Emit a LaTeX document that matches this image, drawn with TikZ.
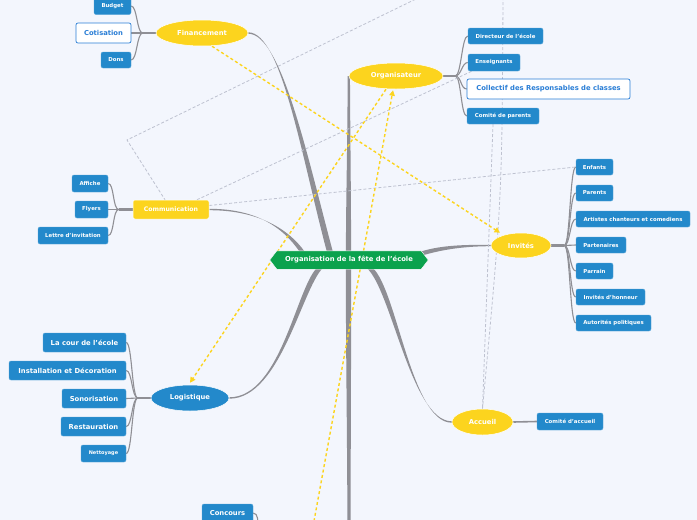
\documentclass[tikz,border=0pt]{standalone}
\usepackage{fontspec}
\setmainfont{DejaVu Sans}
\usetikzlibrary{shapes.geometric,calc,arrows.meta}
\pgfdeclarelayer{bgl}\pgfdeclarelayer{lines}\pgfdeclarelayer{hex}
\pgfsetlayers{bgl,lines,hex,main}
\definecolor{bgc}{HTML}{F3F6FD}
\definecolor{yel}{HTML}{FCD41E}
\definecolor{blu}{HTML}{2389CB}
\definecolor{grn}{HTML}{0BA24D}
\definecolor{brc}{HTML}{8F8F95}
\definecolor{dgr}{HTML}{BEC2D0}
\definecolor{wbl}{HTML}{2A7ED6}
\tikzset{
 bx/.style={rectangle, rounded corners=2pt, fill=blu, draw=blu!75!white, line width=0.4pt, text=white, font=\fontsize{5.4}{6}\selectfont\bfseries, inner sep=1pt},
 bxl/.style={bx, font=\fontsize{6.8}{8}\selectfont\bfseries},
 wbx/.style={rectangle, rounded corners=2pt, fill=white, draw=wbl, line width=0.7pt, text=wbl, font=\fontsize{6.8}{8}\selectfont\bfseries, inner sep=1pt},
 ell/.style={ellipse, fill=yel, draw=white, line width=0.5pt, text=white, font=\fontsize{6.8}{8}\selectfont\bfseries, inner sep=0pt},
 ybx/.style={rectangle, rounded corners=2pt, fill=yel, draw=white, line width=0.5pt, text=white, font=\fontsize{6.2}{7}\selectfont\bfseries, inner sep=1pt},
 ctr/.style={rectangle, text=white, font=\fontsize{6.8}{8}\selectfont\bfseries, inner sep=0pt},
 stem/.style={draw=brc, line width=2.3pt},
 sub/.style={draw=brc, line width=1.1pt},
 gd/.style={draw=dgr, line width=0.8pt, dash pattern=on 3pt off 2pt},
 yd/.style={draw=yel, line width=1.4pt, dash pattern=on 3pt off 2.5pt, -{Triangle[length=5.5pt,width=5.5pt,fill=yel]}},
}
\newcommand\tbr[6]{\fill[brc] ($(#1)+(#5)$) .. controls ($(#2)+(#5)$) and ($(#3)+(#6)$) .. ($(#4)+(#6)$) -- ($(#4)-(#6)$) .. controls ($(#3)-(#6)$) and ($(#2)-(#5)$) .. ($(#1)-(#5)$) -- cycle;}
\newcommand\fanL[2]{\draw[sub] (#1) .. controls +(-6,0) and +(6,0) .. (#2);}
\newcommand\fanR[2]{\draw[sub] (#1) .. controls +(6,0) and +(-6,0) .. (#2);}
\begin{document}
\begin{tikzpicture}[x=1pt,y=-1pt]
\begin{pgfonlayer}{bgl}
\fill[bgc] (0,0) rectangle (697,520);
\end{pgfonlayer}
\useasboundingbox (0,0) rectangle (697,520);

% central
\node[ctr, minimum width=158, minimum height=18] (c) at (349,260) {Organisation de la fête de l'école};
\begin{pgfonlayer}{hex}
\filldraw[fill=grn, draw=white, line width=0.4pt] (c.west) -- ($(c.north west)+(7,0)$) -- ($(c.north east)+(-7,0)$) -- (c.east) -- ($(c.south east)+(-7,0)$) -- ($(c.south west)+(7,0)$) -- cycle;
\end{pgfonlayer}

% Financement
\node[ell, minimum width=92, minimum height=26] (fin) at (202,33) {Financement};
\node[bx, minimum width=37, minimum height=17] (bud) at (112.5,6) {Budget};
\node[wbx, minimum width=55, minimum height=20] (cot) at (103.5,33) {Cotisation};
\node[bx, minimum width=30, minimum height=16] (don) at (116,60) {Dons};

% Organisateur
\node[ell, minimum width=94, minimum height=26] (org) at (396,76) {Organisateur};
\node[bx, minimum width=75, minimum height=16] (dir) at (505.5,36) {Directeur de l'école};
\node[bx, minimum width=52, minimum height=17] (ens) at (494,62.5) {Enseignants};
\node[wbx, minimum width=163, minimum height=20] (col) at (548.5,89) {Collectif des Responsables de classes};
\node[bx, minimum width=72, minimum height=16] (cpa) at (503,116) {Comité de parents};

% Communication
\node[ybx, minimum width=76, minimum height=19] (com) at (171,209.5) {Communication};
\node[bx, minimum width=36, minimum height=17] (aff) at (90,183.5) {Affiche};
\node[bx, minimum width=33, minimum height=17] (fly) at (91.5,209.5) {Flyers};
\node[bx, minimum width=70, minimum height=17] (let) at (73,235.5) {Lettre d'invitation};

% Invites
\node[ell, minimum width=60, minimum height=25] (inv) at (521,245.5) {Invités};
\node[bx, minimum width=37, minimum height=16] (enf) at (594.5,167) {Enfants};
\node[bx, minimum width=37, minimum height=16] (par) at (594.5,193) {Parents};
\node[bx, minimum width=114, minimum height=16] (art) at (633,219) {Artistes chanteurs et comediens};
\node[bx, minimum width=50, minimum height=16] (pat) at (601,245) {Partenaires};
\node[bx, minimum width=37, minimum height=16] (prr) at (594.5,271) {Parrain};
\node[bx, minimum width=69, minimum height=16] (hon) at (610.5,297) {Invités d'honneur};
\node[bx, minimum width=75, minimum height=16] (aut) at (613.5,323) {Autorités politiques};

% Logistique
\node[ell, fill=blu, minimum width=78, minimum height=26] (log) at (190,398) {Logistique};
\node[bxl, minimum width=83, minimum height=19] (cou) at (84.5,342.5) {La cour de l'école};
\node[bxl, minimum width=117, minimum height=19] (ins) at (67.5,370.5) {Installation et Décoration};
\node[bxl, minimum width=64, minimum height=19] (son) at (94,398.5) {Sonorisation};
\node[bxl, minimum width=65, minimum height=19] (res) at (93.5,426.5) {Restauration};
\node[bx, font=\fontsize{5}{6}\selectfont\bfseries, minimum width=45, minimum height=17] (net) at (103.5,453.5) {Nettoyage};

% Accueil
\node[ell, minimum width=61, minimum height=26] (acc) at (482.5,422) {Accueil};
\node[bx, minimum width=66, minimum height=17] (cac) at (570,421.5) {Comité d'accueil};

% Concours
\node[bxl, minimum width=51, minimum height=18] (con) at (227.5,513) {Concours};

\begin{pgfonlayer}{lines}
% main branches
\coordinate (fa) at (331,256); \coordinate (fc1) at (305,160); \coordinate (fc2) at (282,33);
\tbr{fa}{fc1}{fc2}{fin.east}{3,0}{0,0.7}
\coordinate (ca) at (305,256); \coordinate (cc1) at (290,232); \coordinate (cc2) at (262,209.5);
\tbr{ca}{cc1}{cc2}{com.east}{2.6,0}{0,0.7}
\coordinate (oa) at (348.5,256); \coordinate (oc1) at (348.5,200); \coordinate (oc2) at (349,130);
\tbr{oa}{oc1}{oc2}{org.west}{2.6,0}{1.2,0}
\coordinate (ia) at (420,254); \coordinate (ic1) at (442,247); \coordinate (ic2) at (466,245.5);
\tbr{ia}{ic1}{ic2}{inv.west}{0,2.2}{0,0.7}
\coordinate (la) at (322,266); \coordinate (lc1) at (300,282); \coordinate (lc2) at (282,398);
\tbr{la}{lc1}{lc2}{log.east}{3,0}{0,0.7}
\coordinate (aa) at (367,266); \coordinate (ac1) at (393,280); \coordinate (ac2) at (410,422);
\tbr{aa}{ac1}{ac2}{acc.west}{3,0}{0,0.7}
\coordinate (ba) at (348.5,266); \coordinate (bc1) at (348.5,350); \coordinate (bc2) at (349,450); \coordinate (bend) at (349,535);
\tbr{ba}{bc1}{bc2}{bend}{2.7,0}{1.6,0}

% fans
\coordinate (fj) at ($(fin.west)+(-13,0)$);
\draw[stem] (fin.west) -- (fj); \draw[sub] (fj) -- (cot.east);
\fanL{fj}{bud.east} \fanL{fj}{don.east}

\coordinate (oj) at ($(org.east)+(12,0)$);
\draw[stem] (org.east) -- (oj);
\fanR{oj}{dir.west} \fanR{oj}{ens.west} \fanR{oj}{col.west} \fanR{oj}{cpa.west}

\coordinate (cj) at ($(com.west)+(-14,0)$);
\draw[stem] (com.west) -- (cj); \draw[sub] (cj) -- (fly.east);
\fanL{cj}{aff.east} \fanL{cj}{let.east}

\coordinate (ij) at ($(inv.east)+(13,0)$);
\draw[stem] (inv.east) -- (ij);
\fanR{ij}{enf.west} \fanR{ij}{par.west} \fanR{ij}{art.west} \fanR{ij}{pat.west}
\fanR{ij}{prr.west} \fanR{ij}{hon.west} \fanR{ij}{aut.west}

\coordinate (lj) at ($(log.west)+(-13,0)$);
\draw[stem] (log.west) -- (lj);
\fanL{lj}{cou.east} \fanL{lj}{ins.east} \fanL{lj}{son.east} \fanL{lj}{res.east} \fanL{lj}{net.east}

\draw[draw=brc, line width=1.6pt] (acc.east) -- (cac.west);

\coordinate (conx) at (258,526);
\draw[sub] (con.east) .. controls +(5,0) and +(0,-4) .. (conx);

% grey dashed relations
\coordinate (g1a) at (420,-3); \coordinate (g1b) at (127,140);
\draw[gd] (g1a) -- (g1b) -- ($(com.north)+(-6,0)$);
\draw[gd] ($(com.north)+(26,0)$) -- ($(ens.south west)+(4,0)$);
\draw[gd] ($(com.east)+(0,-4)$) -- (enf.west);
\coordinate (g4a) at (503,-3);
\draw[gd] (g4a) .. controls (502,200) .. (acc.north);
\draw[gd] ($(cpa.south)+(-10,0)$) -- (acc.north);

% yellow dashed relations
\draw[yd] ($(fin.south)+(10,0)$) -- ($(inv.north)+(-21,0)$);
\draw[yd] ($(org.south)+(-10,0)$) -- ($(log.north)+(0,-2)$);
\coordinate (yb) at (312,532);
\draw[yd] (yb) -- ($(org.south)+(-3,1)$);
\end{pgfonlayer}
\end{tikzpicture}
\end{document}
